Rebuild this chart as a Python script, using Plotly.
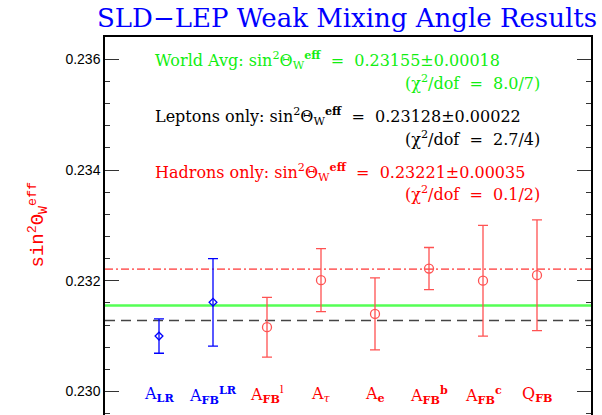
import plotly.graph_objects as go

# ---- data ----
categories = ["A_LR", "A_FB^LR", "A_FB^l", "A_tau", "A_e", "A_FB^b", "A_FB^c", "Q_FB"]
cat_labels = ["A<sub><b>LR</b></sub>", "A<sub><b>FB</b></sub><sup><b>LR</b></sup>", "A<sub><b>FB</b></sub><sup>l</sup>",
              "A<sub><i>τ</i></sub>", "A<sub><b>e</b></sub>", "A<sub><b>FB</b></sub><sup><b>b</b></sup>",
              "A<sub><b>FB</b></sub><sup><b>c</b></sup>", "Q<sub><b>FB</b></sub>"]
values = [0.23100, 0.23161, 0.23116, 0.23201, 0.23140, 0.23222, 0.23200, 0.23210]
errors = [0.00031, 0.00079, 0.00054, 0.00057, 0.00065, 0.00038, 0.00100, 0.00100]
groups = ["SLD", "SLD", "LEP", "LEP", "LEP", "LEP", "LEP", "LEP"]

world_avg = 0.23155
lepton_avg = 0.23128
hadron_avg = 0.23221

y_tickvals = [0.230, 0.232, 0.234, 0.236]
y_ticktext = ["0.230", "0.232", "0.234", "0.236"]

BLUE = "#0000ff"
RED = "#ff0000"
RED_BAR = "#ff5252"
GREEN = "#11ee11"
SERIF = "DejaVu Serif"
SANS = "Liberation Sans"
MONO = "Liberation Mono"
NB = "\u00a0"

fig = go.Figure()

x_idx = list(range(len(categories)))
xmin, xmax = -1, len(categories)

# horizontal averages
fig.add_trace(go.Scatter(x=[xmin, xmax], y=[world_avg] * 2, mode="lines",
                         line=dict(color="#55ff55", width=2.5), showlegend=False, hoverinfo="skip"))
fig.add_trace(go.Scatter(x=[xmin, xmax], y=[lepton_avg] * 2, mode="lines",
                         line=dict(color="#444444", width=1.5, dash="10px,6px"), showlegend=False, hoverinfo="skip"))
fig.add_trace(go.Scatter(x=[xmin, xmax], y=[hadron_avg] * 2, mode="lines",
                         line=dict(color=RED, width=1, dash="8px,3px,2px,3px"), showlegend=False, hoverinfo="skip"))

# measurements
for grp, col, bcol, sym, size in [("SLD", BLUE, BLUE, "diamond-open", 6),
                                   ("LEP", RED, RED_BAR, "circle-open", 9)]:
    xs = [x for x, g in zip(x_idx, groups) if g == grp]
    ys = [v for v, g in zip(values, groups) if g == grp]
    es = [e for e, g in zip(errors, groups) if g == grp]
    fig.add_trace(go.Scatter(x=xs, y=ys, mode="markers",
                             marker=dict(symbol=sym, size=size, color=bcol, line=dict(width=1.3, color=bcol)),
                             error_y=dict(type="data", array=es, visible=True, color=bcol, thickness=1.3, width=5),
                             showlegend=False))

# category labels inside plot
for x, lab, g in zip(x_idx, cat_labels, groups):
    fig.add_annotation(x=x, y=0.22994, xref="x", yref="y", text=lab, showarrow=False,
                       font=dict(family=SERIF, size=16, color=BLUE if g == "SLD" else RED),
                       xanchor="center", yanchor="middle")

# text block
PL, PW, PT, PH = 105, 486, 37, 378
def px(xp):
    return (xp - PL) / PW
def py(yp):
    return 1 - (yp - PT) / PH

EQ = NB + NB + "=" + NB + NB
SW = "sin<sup>2</sup>Θ<sub>W</sub><sup><b>eff</b></sup>"
texts = [
    ("World Avg: " + SW + EQ + "0.23155±0.00018", 153, 60, "left", GREEN),
    ("(χ<sup>2</sup>/dof" + EQ + "8.0/7)", 542, 83, "right", GREEN),
    ("Leptons only: " + SW + EQ + "0.23128±0.00022", 153, 116, "left", "#000000"),
    ("(χ<sup>2</sup>/dof" + EQ + "2.7/4)", 542, 139, "right", "#000000"),
    ("Hadrons only: " + SW + EQ + "0.23221±0.00035", 153, 172, "left", RED),
    ("(χ<sup>2</sup>/dof" + EQ + "0.1/2)", 542, 193, "right", RED),
]
for t, xp, yp, anc, col in texts:
    fig.add_annotation(x=px(xp), y=py(yp), xref="paper", yref="paper", text=t, showarrow=False,
                       xanchor=anc, yanchor="middle", font=dict(family=SERIF, size=16, color=col))

# y axis title
fig.add_annotation(x=(22 - PL) / PW, y=py(225), xref="paper", yref="paper",
                   text="sin<sup>2</sup>Θ<sub>W</sub><sup>eff</sup>",
                   showarrow=False, textangle=-90, font=dict(family=MONO, size=19, color=RED))

fig.update_layout(
    width=602, height=415,
    margin=dict(l=PL, r=602 - PL - PW, t=PT, b=0),
    paper_bgcolor="white", plot_bgcolor="white",
    title=dict(text="SLD−LEP Weak Mixing Angle Results", x=347 / 602, xanchor="center",
               y=1 - 18 / 415, yanchor="middle", yref="container",
               font=dict(family=SERIF, size=26, color=BLUE)),
    xaxis=dict(range=[xmin, xmax], showgrid=False, zeroline=False, showticklabels=False, ticks="",
               showline=True, linecolor="black", linewidth=1.5, side="top", mirror=False),
    yaxis=dict(range=[0.229574, 0.236403], showgrid=False, zeroline=False,
               tickvals=y_tickvals, ticktext=y_ticktext, ticks="inside", ticklen=14, tickwidth=1.3,
               tickcolor="#333333", showline=True, linecolor="black", linewidth=1.5, mirror="allticks",
               tickfont=dict(family=SANS, size=14, color="black"),
               minor=dict(dtick=0.0004, tick0=0.230, ticks="inside", ticklen=5, tickcolor="#333333", tickwidth=1.2)),
)

fig.write_html("out.html")
